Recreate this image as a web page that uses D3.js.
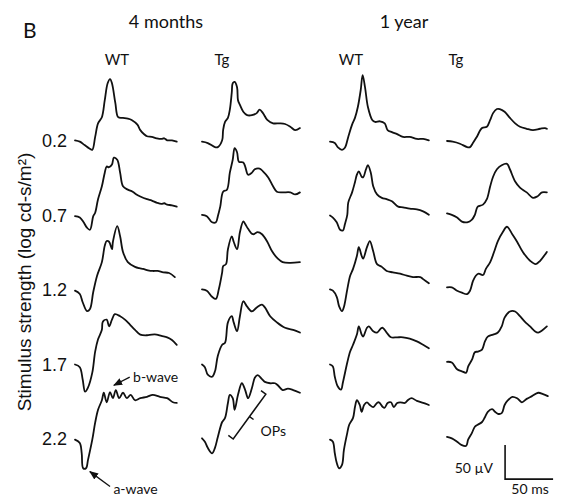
<!DOCTYPE html>
<html><head><meta charset="utf-8">
<script src="https://cdn.jsdelivr.net/npm/d3@7"></script>
<style>body{margin:0;background:#fff}</style>
</head><body>
<script>
// Scotopic ERG intensity series, 4 months vs 1 year, WT vs Tg
const ages = ["4 months", "1 year"];
const genotypes = ["WT", "Tg", "WT", "Tg"];
const intensities = ["0.2", "0.7", "1.2", "1.7", "2.2"];

// Each trace: [time (ms), amplitude (µV)] from flash onset
const wt4m = [
  [[0,1],[5,-1],[10,-6],[15,-11],[18,-13],[21,6],[24,26],[28,35],[31,60],[34,85],[36.5,91],[38.5,85],[42,56],[45,35],[50,34],[55,33],[59,31],[65,24],[68,16],[72,10],[75,7],[80,6],[85,4],[90,3],[93,4],[96,1],[101,1],[106,-1]],
  [[0,-1],[5,-3],[9,-10],[12.5,-18],[15.6,-21],[19,-1],[21,4],[24,24],[28,43],[31,63],[33,72],[35.5,71],[38.5,75],[40.5,85],[44,82],[47,63],[50,43],[55,38],[60,35],[64,31],[68,28],[75,24],[80,22],[85,19],[90,17],[93,18],[96,16],[101,15],[106,13]],
  [[0,-1],[5,-6],[8,-18],[12.5,-31],[15.6,-28],[19,-3],[23,21],[28,41],[31,65],[33,72],[35.5,71],[38.5,60],[39.5,71],[44,94],[47,79],[50,56],[55,41],[62.5,34],[67,32],[71,31],[76,29],[81,28],[86,28],[92,26],[98,25],[104,19]],
  [[0,0],[5,-4],[8,-22],[10.5,-40],[13.5,-34],[18,-12],[21,19],[24,37],[28,51],[29,63],[33,66],[35.5,56],[38.5,66],[41.5,74],[47,71],[52,66],[57,59],[62.5,51],[68,44],[75,43],[80,44],[85,44],[90,42],[96,40],[101,36],[106,29]],
  [[0,-1],[5,-6],[7,-21],[8.5,-43],[11.5,-43],[13.5,-31],[18,-1],[21,24],[24,43],[28,57],[30,68],[33,54],[36.5,69],[39.5,60],[42.5,72],[46,60],[50,68],[54,60],[58,65],[62.5,57],[68,60],[75,62],[81,65],[88.5,62],[96,60],[102,54],[106,53]]
];
const tg4m = [
  [[0,-1],[6,-3],[13.5,-9],[16.5,-9],[21,1],[22,16],[24,28],[27,34],[29,46],[31,71],[32,85],[34,87],[36.5,79],[37.5,60],[39.5,53],[43,43],[47,38],[52,38],[57,41],[60,46],[63.5,41],[68,31],[74,26],[81,26],[86.5,25],[92,21],[97,16],[102,19]],
  [[0,1],[5,-1],[10.5,-10],[14.5,-10],[16.5,-1],[19,13],[22,35],[26,38],[29,63],[32,82],[34,99],[36.5,93],[38.5,79],[43,78],[45,72],[48,60],[52,63],[55,68],[60,69],[63.5,65],[69,56],[74,43],[78,35],[84,34],[92,34],[97,31],[102,34]],
  [[0,1],[5,-1],[10.5,-10],[14.5,-13],[17.5,1],[21,26],[22,35],[25,38],[27,60],[31,79],[33,71],[36.5,60],[39.5,85],[43,101],[45,97],[48,90],[53,82],[58,85],[62.5,82],[68,71],[73,57],[79,46],[84,41],[92,40],[102,41]],
  [[0,0],[3,-4],[6,-15],[10.5,-18],[13.5,-10],[16.5,13],[21,29],[24,32],[27,62],[31,71],[33,62],[36.5,49],[39.5,71],[43,93],[47,85],[52,78],[57,84],[62.5,88],[65.5,84],[71,71],[78,62],[86.5,54],[95,51],[102,47]],
  [[0,1],[3,-4],[6,-13],[10.5,-21],[13.5,-13],[16.5,3],[21,25],[24,31],[27,53],[29,65],[32,60],[34,43],[37.5,65],[41.5,82],[45,72],[48,60],[52,75],[55,90],[58,94],[62.5,88],[65.5,84],[71,82],[76,82],[79,79],[84,72],[89.5,74],[95,72],[102,68]]
];
const wt1y = [
  [[0,-1],[5,-3],[8,-9],[12.5,-13],[15.5,-10],[19,6],[23,24],[26,34],[29,50],[32,75],[34,97],[36.5,79],[39.5,50],[44,31],[47,28],[52,29],[57,26],[60,16],[64.5,13],[70,10],[76,6],[83,6],[90.5,3],[97,3],[103,1]],
  [[0,0],[3,-3],[7,-10],[10.5,-21],[13.5,-22],[15.5,-13],[18,1],[19,19],[23,34],[26,49],[28,60],[30,65],[33,57],[34.5,56],[37.5,68],[39.5,74],[42.5,63],[45,43],[49,31],[54,26],[59,24],[64.5,21],[71,13],[76,12],[83,10],[90.5,9],[97,6],[103,1]],
  [[0,1],[3,-1],[7,-10],[9.5,-24],[12.5,-31],[14.5,-25],[18,1],[21,21],[24,31],[28,50],[30,63],[33,50],[34.5,46],[38.5,63],[41.5,72],[45,57],[49,38],[54,34],[59,28],[65.5,26],[73,24],[80,21],[86.5,19],[94,19],[97,16],[103,10]],
  [[0,0],[3,-3],[5,-18],[8,-32],[11.5,-37],[13.5,-26],[18,3],[21,19],[24,29],[28,44],[30,56],[33,44],[34.5,41],[38.5,54],[40.5,56],[45,49],[49,47],[53,53],[55,54],[59,47],[63.5,40],[70,40],[76,40],[83,38],[90.5,34],[97,29],[103,24]],
  [[0,-1],[3,-4],[5,-21],[7,-35],[9.5,-43],[12.5,-38],[14.5,-16],[18,9],[20,21],[24,31],[26,47],[28,57],[31,50],[33,40],[35.5,50],[38.5,54],[41.5,50],[45,47],[49,53],[51,54],[55,47],[57,46],[60,53],[63.5,54],[66.5,47],[70,53],[73,54],[78,53],[81,57],[85,60],[90.5,56],[97,53],[103,50]]
];
const tg1y = [
  [[0,0],[6,-1],[13.5,-4],[21,-9],[24,-9],[27,-3],[31,6],[36.5,19],[41.5,21],[45,31],[48,41],[52,47],[55,47],[60,43],[65.5,34],[71,26],[76,21],[83,18],[89.5,16],[97,18],[102,19],[104,18]],
  [[0,3],[5,1],[10.5,-3],[15.5,-9],[21,-10],[26,-6],[29,1],[32,13],[37.5,16],[41.5,24],[45,43],[48,57],[52,68],[57,74],[62.5,76],[65.5,68],[71,50],[76,41],[83,34],[89.5,26],[94,28],[99,34],[104,34]],
  [[0,4],[5,4],[10.5,-1],[15.5,-4],[21,-6],[24,-1],[27,13],[30,21],[33,24],[37.5,22],[40.5,31],[45,41],[50,60],[53,72],[58,85],[62.5,93],[68,82],[73,71],[79,56],[86.5,43],[92.5,38],[97,43],[104,56]],
  [[0,4],[5,3],[10.5,-7],[15.5,-10],[20,-12],[22,-3],[26,7],[29,18],[32,19],[36.5,22],[39.5,34],[42.5,41],[48,44],[53,47],[57,56],[60,69],[65.5,78],[71,78],[76,71],[81,63],[86.5,56],[91.5,49],[95,47],[99,50],[104,56]],
  [[0,3],[5,1],[10.5,-4],[15.5,-9],[20,-10],[22,-1],[26,9],[29,18],[32,21],[36.5,25],[39.5,32],[42.5,40],[47,44],[50,40],[53,37],[57,38],[60,50],[63.5,57],[68,62],[73,60],[78,54],[83,59],[88.5,63],[95,68],[100,66],[105,63]]
];
const groups = [wt4m, tg4m, wt1y, tg1y];

const W = 565, H = 497;
const svg = d3.select("body").append("svg")
  .attr("width", W).attr("height", H)
  .style("font-family", "Lato, 'Open Sans', sans-serif");

svg.append("rect").attr("width", W).attr("height", H).attr("fill", "#fff");

const defs = svg.append("defs");
defs.append("marker").attr("id", "arrow")
  .attr("viewBox", "0 0 10 10").attr("refX", 9).attr("refY", 5)
  .attr("markerWidth", 7).attr("markerHeight", 7)
  .attr("orient", "auto-start-reverse")
  .append("path").attr("d", "M0,1 L10,5 L0,9 z").attr("fill", "#111");

// panel placement
const colX = [75, 202, 330, 447];
const rowY = d3.scalePoint().domain(intensities).range([141, 439]);

// shared time / voltage calibration (50 ms = 48 px, 50 µV = 34 px)
const t = d3.scaleLinear().domain([0, 50]).range([0, 48]);
const v = d3.scaleLinear().domain([0, 50]).range([0, -34]);

const line = d3.line()
  .x(d => t(d[0])).y(d => v(d[1]))
  .curve(d3.curveCatmullRom.alpha(0.5));

groups.forEach((traces, c) => {
  traces.forEach((tr, r) => {
    svg.append("g")
      .attr("transform", `translate(${colX[c]},${rowY(intensities[r])})`)
      .append("path")
      .attr("d", line(tr))
      .attr("fill", "none")
      .attr("stroke", "#111")
      .attr("stroke-width", 1.8)
      .attr("stroke-linejoin", "round")
      .attr("stroke-linecap", "round");
  });
});

// panel letter and headers
svg.append("text").attr("x", 23).attr("y", 38)
  .attr("font-size", 21).attr("fill", "#111").text("B");

const ageX = [166, 404];
ages.forEach((a, i) => {
  svg.append("text").attr("x", ageX[i]).attr("y", 28)
    .attr("text-anchor", "middle").attr("font-size", 18).attr("fill", "#111").text(a);
});
const genoX = [117, 222, 351, 456];
genotypes.forEach((g, i) => {
  svg.append("text").attr("x", genoX[i]).attr("y", 65)
    .attr("text-anchor", "middle").attr("font-size", 15).attr("fill", "#111").text(g);
});

// intensity labels
intensities.forEach(s => {
  svg.append("text").attr("x", 67).attr("y", rowY(s) + 6)
    .attr("text-anchor", "end")
    .attr("font-family", "'Liberation Sans', Arial, sans-serif")
    .attr("font-size", 18).attr("fill", "#111").text(s);
});

svg.append("text")
  .attr("transform", "translate(31,282) rotate(-90)")
  .attr("text-anchor", "middle")
  .attr("font-family", "'Liberation Sans', Arial, sans-serif")
  .attr("font-size", 19).attr("fill", "#111")
  .text("Stimulus strength (log cd-s/m²)");

// annotations on the brightest WT 4-month trace
const a5 = svg.append("g").attr("transform", `translate(${colX[0]},${rowY("2.2")})`);
a5.append("line")
  .attr("x1", t(36.5)).attr("y1", v(-70)).attr("x2", t(15.5)).attr("y2", v(-48))
  .attr("stroke", "#111").attr("stroke-width", 1.3).attr("marker-end", "url(#arrow)");
a5.append("text").attr("x", t(40)).attr("y", v(-81))
  .attr("font-size", 14).attr("fill", "#111").text("a-wave");
a5.append("line")
  .attr("x1", t(57)).attr("y1", v(91)).attr("x2", t(40.5)).attr("y2", v(79))
  .attr("stroke", "#111").attr("stroke-width", 1.3).attr("marker-end", "url(#arrow)");
a5.append("text").attr("x", t(60.5)).attr("y", v(84))
  .attr("font-size", 14).attr("fill", "#111").text("b-wave");

// oscillatory potentials bracket on the brightest Tg 4-month trace
const b5 = svg.append("g").attr("transform", `translate(${colX[1]},${rowY("2.2")})`);
const p0 = [t(32.5), v(0)], p1 = [t(66.5), v(66)];
const dx = p1[0] - p0[0], dy = p1[1] - p0[1], len = Math.hypot(dx, dy);
const nx = dy / len, ny = -dx / len; // perpendicular, pointing up-left
const cap = 6;
b5.append("path")
  .attr("d", `M${p0[0] + nx * cap},${p0[1] + ny * cap}L${p0[0]},${p0[1]}L${p1[0]},${p1[1]}L${p1[0] + nx * cap},${p1[1] + ny * cap}`
    + `M${(p0[0] + p1[0]) / 2},${(p0[1] + p1[1]) / 2}l${-nx * 5},${-ny * 5}`)
  .attr("fill", "none").attr("stroke", "#111").attr("stroke-width", 1.5);
b5.append("text").attr("x", t(61)).attr("y", v(5))
  .attr("font-size", 14).attr("fill", "#111").text("OPs");

// calibration bar
const s5 = svg.append("g").attr("transform", `translate(${colX[3]},${rowY("2.2")})`);
const o = [t(60.5), v(-59)];
s5.append("path")
  .attr("d", `M${o[0]},${o[1] + v(50)}L${o[0]},${o[1]}L${o[0] + t(50)},${o[1]}`)
  .attr("fill", "none").attr("stroke", "#111").attr("stroke-width", 1.6);
s5.append("text").attr("x", t(48)).attr("y", v(-50))
  .attr("text-anchor", "end").attr("font-size", 14).attr("fill", "#111").text("50 µV");
s5.append("text").attr("x", t(86.5)).attr("y", v(-81))
  .attr("text-anchor", "middle").attr("font-size", 14).attr("fill", "#111").text("50 ms");
</script>
</body></html>
